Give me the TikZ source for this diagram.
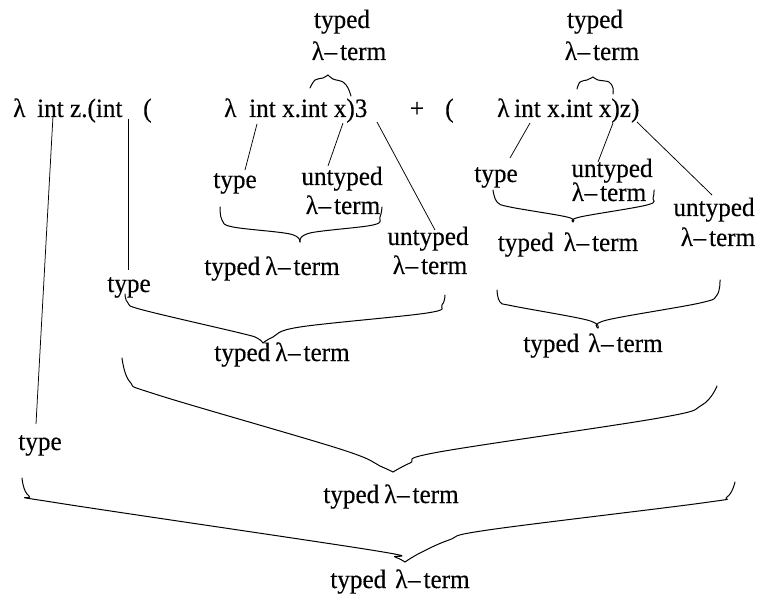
\documentclass[tikz,border=0pt]{standalone}
\usepackage{fontspec}
\setmainfont[FakeBold=0.3,FakeStretch=0.95]{Liberation Serif}
\newcommand\lamterm{λ\kern0.5pt–\kern3pt term}
\begin{document}
\begin{tikzpicture}[x=1pt,y=-1pt,
  lbl/.style={inner sep=0pt,anchor=base,font=\fontsize{26.5}{30}\selectfont},
  expr/.style={lbl,anchor=base west},
  lead/.style={line width=0.75pt},
  curly/.style={line width=1pt,line cap=round,line join=round}]
\useasboundingbox (0,0) rectangle (761,604);

% the expression
\node[expr] (lz) at (13,117) {λ};
\node[expr] (iz) at (37,117) {int z.(int};
\node[expr] (pa) at (143,117) {(};
\node[expr] (la) at (224,117) {λ};
\node[expr] (ea) at (249,117) {int x.int x)3};
\node[lbl]  (plus) at (417,117) {+};
\node[expr] (pb) at (445,117) {(};
\node[expr] (lb) at (497,117) {λ};
\node[expr] (eb) at (514,117) {int x.int x)z)};

% labels above the expression
\node[lbl] (tA1) at (342,28) {typed};
\node[lbl] (tA2) at (349,60) {\lamterm};
\node[lbl] (tB1) at (595,28) {typed};
\node[lbl] (tB2) at (602,60) {\lamterm};

% labels below the expression
\node[lbl] (tyE) at (40,450) {type};
\node[lbl] (tyB) at (129,292) {type};
\node[lbl] (tyC) at (235,188) {type};
\node[lbl] (uC1) at (342,185) {untyped};
\node[lbl] (uC2) at (343,214) {\lamterm};
\node[lbl] (tC)  at (272,275) {typed\hspace{5pt}\lamterm};
\node[lbl] (uD1) at (428,245) {untyped};
\node[lbl] (uD2) at (430,274) {\lamterm};
\node[lbl] (tB)  at (282,361) {typed\hspace{5pt}\lamterm};
\node[lbl] (tyF) at (496,182) {type};
\node[lbl] (uF1) at (612,177) {untyped};
\node[lbl] (uF2) at (609,201) {\lamterm};
\node[lbl] (tF)  at (568,251) {typed\hspace{10pt}\lamterm};
\node[lbl] (uG1) at (714,216) {untyped};
\node[lbl] (uG2) at (718,246) {\lamterm};
\node[lbl] (tG)  at (593,352) {typed\hspace{9pt}\lamterm};
\node[lbl] (tH)  at (391,503) {typed\hspace{5pt}\lamterm};
\node[lbl] (tI)  at (400,588) {typed\hspace{9pt}\lamterm};

% leader lines
\coordinate (s1) at (53,116);  \coordinate (e1) at (36,424);
\coordinate (s2) at (128,119); \coordinate (e2) at (128,270);
\coordinate (s3) at (257,124); \coordinate (e3) at (245,170);
\coordinate (s4) at (343,123); \coordinate (e4) at (328,166);
\coordinate (s5) at (377,122); \coordinate (e5) at (435,230);
\coordinate (s6) at (530,123); \coordinate (e6) at (510,158);
\coordinate (s7) at (613,123); \coordinate (e7) at (598,162);
\coordinate (s8) at (637,122); \coordinate (e8) at (712,195);
\foreach \i in {1,...,8} \draw[lead] (s\i) -- (e\i);

% braces over the inner terms
\draw[curly] plot[smooth,tension=0.6] coordinates {(310,88) (315,80) (323,78) (328,75)};
\draw[curly] plot[smooth,tension=0.6] coordinates {(328,75) (333,79) (343,82) (348,88) (351,96)};
\draw[curly] plot[smooth,tension=0.6] coordinates {(577,89) (580,82) (587,80) (593,77)};
\draw[curly] plot[smooth,tension=0.6] coordinates {(593,77) (598,80) (609,82) (613,88) (613,94)};

% braces below
\draw[curly] plot[smooth,tension=0.6] coordinates {(220,207) (222,220) (233,227) (290,234) (300,242)};
\draw[curly] plot[smooth,tension=0.6] coordinates {(300,242) (310,233) (373,225) (380,217) (382,207)};
\draw[curly] plot[smooth,tension=0.6] coordinates {(493,190) (497,202) (510,207) (567,217) (573,222)};
\draw[curly] plot[smooth,tension=0.6] coordinates {(573,222) (580,217) (647,205) (653,198) (654,190)};
\draw[curly] plot[smooth,tension=0.6] coordinates {(125,294) (128,303) (143,310) (240,333) (257,338) (263,343)};
\draw[curly] plot[smooth,tension=0.6] coordinates {(263,343) (273,337) (300,327) (427,313) (442,305) (445,295)};
\draw[curly] plot[smooth,tension=0.6] coordinates {(497,290) (500,302) (513,306) (587,320) (598,328)};
\draw[curly] plot[smooth,tension=0.6] coordinates {(598,328) (607,320) (700,303) (717,295) (720,280)};
\draw[curly] plot[smooth,tension=0.6] coordinates {(122,358) (130,382) (158,395) (340,449) (380,466) (393,472)};
\draw[curly] plot[smooth,tension=0.6] coordinates {(393,472) (410,463) (439,452) (659,418) (702,405) (717,386)};
\draw[curly] plot[smooth,tension=0.6] coordinates {(22,478) (29,496) (58,503) (371,550) (395,557) (405,562)};
\draw[curly] plot[smooth,tension=0.6] coordinates {(405,562) (420,553) (449,540) (488,530) (702,503) (727,497) (735,482)};
\end{tikzpicture}
\end{document}
